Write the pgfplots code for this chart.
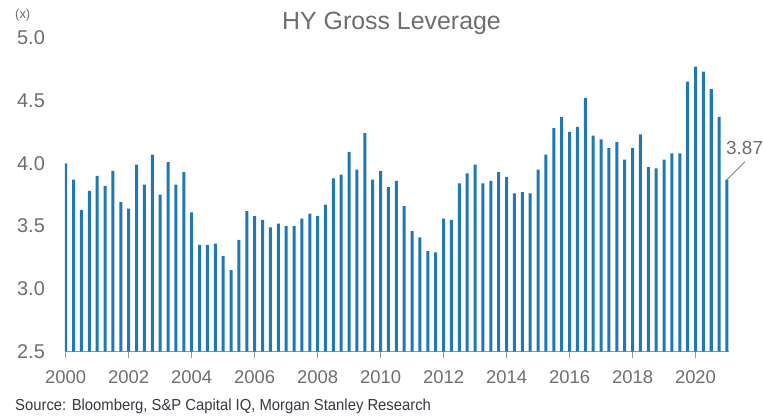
\documentclass[border=0pt]{standalone}
\usepackage{pgfplots}
\pgfplotsset{compat=1.18}
\usepackage{fontspec}
\setmainfont{Liberation Sans}
\newfontfamily\srcfont[FakeStretch=0.93]{Liberation Sans}
\definecolor{barblue}{RGB}{32,120,180}
\definecolor{txtgray}{RGB}{110,110,110}
\definecolor{axgray}{RGB}{150,150,150}
\definecolor{srcgray}{RGB}{55,55,65}
\pgfplotstableread{
x y
2000.00 4.00
2000.25 3.87
2000.50 3.63
2000.75 3.78
2001.00 3.90
2001.25 3.82
2001.50 3.94
2001.75 3.69
2002.00 3.64
2002.25 3.99
2002.50 3.83
2002.75 4.07
2003.00 3.75
2003.25 4.01
2003.50 3.83
2003.75 3.93
2004.00 3.61
2004.25 3.35
2004.50 3.35
2004.75 3.36
2005.00 3.26
2005.25 3.15
2005.50 3.39
2005.75 3.62
2006.00 3.58
2006.25 3.55
2006.50 3.49
2006.75 3.52
2007.00 3.50
2007.25 3.50
2007.50 3.56
2007.75 3.60
2008.00 3.58
2008.25 3.67
2008.50 3.88
2008.75 3.91
2009.00 4.09
2009.25 3.95
2009.50 4.24
2009.75 3.87
2010.00 3.94
2010.25 3.81
2010.50 3.86
2010.75 3.66
2011.00 3.46
2011.25 3.41
2011.50 3.30
2011.75 3.29
2012.00 3.56
2012.25 3.55
2012.50 3.84
2012.75 3.92
2013.00 3.99
2013.25 3.84
2013.50 3.86
2013.75 3.93
2014.00 3.89
2014.25 3.76
2014.50 3.77
2014.75 3.76
2015.00 3.95
2015.25 4.07
2015.50 4.28
2015.75 4.37
2016.00 4.25
2016.25 4.29
2016.50 4.52
2016.75 4.22
2017.00 4.19
2017.25 4.12
2017.50 4.17
2017.75 4.03
2018.00 4.12
2018.25 4.23
2018.50 3.97
2018.75 3.96
2019.00 4.03
2019.25 4.08
2019.50 4.08
2019.75 4.65
2020.00 4.77
2020.25 4.73
2020.50 4.59
2020.75 4.37
2021.00 3.87
}\lev
\begin{document}
\begin{tikzpicture}
\path[use as bounding box] (0,0) rectangle (763bp,417bp);
\begin{axis}[
  at={(64.76bp,65.3bp)}, anchor=south west,
  scale only axis, width=663.8bp, height=314bp,
  xmin=1999.97, xmax=2021.05, ymin=2.5, ymax=5.0,
  ybar, bar width=3bp,
  axis lines*=left,
  axis line style={-, draw=axgray, line width=1bp},
  y axis line style={draw=none},
  tick align=inside,
  xtick={2000,2002,...,2020},
  xticklabels={2000,2002,2004,2006,2008,2010,2012,2014,2016,2018,2020},
  ytick={2.5,3.0,3.5,4.0,4.5,5.0},
  yticklabels={2.5,3.0,3.5,4.0,4.5,5.0},
  major tick length=6bp,
  xtick style={draw=axgray, line width=1bp, yshift=-6bp},
  ytick style={draw=none},
  xticklabel style={anchor=base, inner sep=0pt, yshift=-31.6bp, font=\fontsize{18.5}{20}\selectfont, text=txtgray},
  yticklabel style={anchor=east, inner sep=0pt, xshift=-19.7bp, font=\fontsize{20}{22}\selectfont, text=txtgray},
]
\addplot[fill=barblue, draw=none] table[x=x, y=y] {\lev};
\coordinate (last) at (axis cs:2021,3.87);
\end{axis}
\draw[txtgray, line width=0.8bp] (last) -- ++(18bp,18bp);
\node[anchor=base west, inner sep=0pt, text=txtgray, font=\fontsize{19}{21}\selectfont] at (726bp,262bp) {3.87};
\node[anchor=base, inner sep=0pt, text=txtgray, font=\fontsize{25}{28}\selectfont] at (391.5bp,387bp) {HY Gross Leverage};
\node[anchor=base west, inner sep=0pt, text=txtgray, font=\fontsize{13}{15}\selectfont] at (15bp,398bp) {(x)};
\node[anchor=base west, inner sep=0pt, text=srcgray, font=\srcfont\fontsize{16}{18}\selectfont] at (15bp,7bp) {Source: Bloomberg, S\&P Capital IQ, Morgan Stanley Research};
\end{tikzpicture}
\end{document}
